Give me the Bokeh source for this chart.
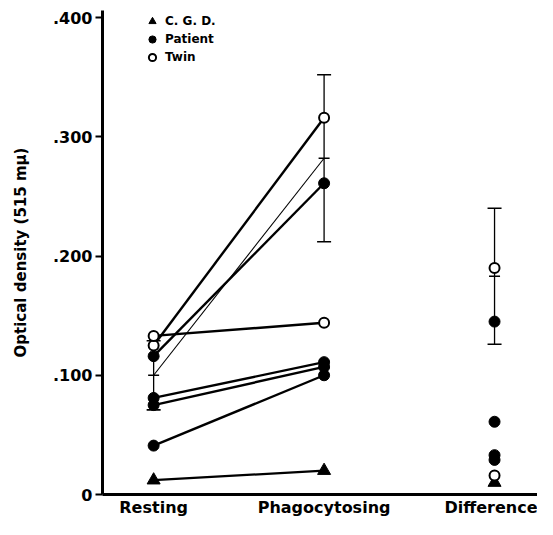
from bokeh.plotting import figure
from bokeh.models import (Range1d, FixedTicker, Legend, LegendItem, Whisker,
                          TeeHead, ColumnDataSource)
from bokeh.embed import file_html
from bokeh.resources import INLINE

# ---- data ----
categories = ["Resting", "Phagocytosing", "Difference"]

cgd_rest = [0.012]
cgd_phago = [0.020]
cgd_diff = [0.010]

patient_rest = [0.116, 0.081, 0.075, 0.041]
patient_phago = [0.261, 0.111, 0.107, 0.100]
patient_diff = [0.145, 0.061, 0.033, 0.029]

twin_rest = [0.125, 0.133]
twin_phago = [0.316, 0.144]
twin_diff = [0.190, 0.016]

mean_values = [0.100, 0.282, 0.183]
mean_errors = [0.029, 0.070, 0.057]

y_ticks = [0.0, 0.1, 0.2, 0.3, 0.4]
y_tick_labels = ["0", ".100", ".200", ".300", ".400"]
y_label = "Optical density (515 mμ)"

FONT = "DejaVu Sans"

pos = {c: i + 1 for i, c in enumerate(categories)}
xr, xp, xd = pos["Resting"], pos["Phagocytosing"], pos["Difference"]

p = figure(width=537, height=519, output_backend="svg", toolbar_location=None,
           x_range=Range1d(0.7, 3.252), y_range=Range1d(0, 0.4059),
           min_border_left=102, min_border_right=0, min_border_top=10,
           min_border_bottom=24)
p.outline_line_color = None
p.grid.visible = False
p.background_fill_color = "white"

# connecting lines
def connect(rest, phago, width):
    p.segment(x0=[xr] * len(rest), y0=rest, x1=[xp] * len(phago), y1=phago,
              line_color="black", line_width=width)

connect(cgd_rest, cgd_phago, 2.2)
connect(patient_rest, patient_phago, 2.4)
connect(twin_rest, twin_phago, 2.4)
# mean line (thin)
p.line(x=[xr, xp], y=mean_values[:2], line_color="black", line_width=1.1)

# error bars
err_src = ColumnDataSource(dict(
    x=[xr, xp, xd],
    lower=[m - e for m, e in zip(mean_values, mean_errors)],
    upper=[m + e for m, e in zip(mean_values, mean_errors)],
))
wh = Whisker(base="x", lower="lower", upper="upper", source=err_src,
             line_color="black", line_width=1.3,
             lower_head=TeeHead(size=14, line_width=1.6, line_color="black"),
             upper_head=TeeHead(size=14, line_width=1.6, line_color="black"))
p.add_layout(wh)
p.scatter(x=[xr, xp, xd], y=mean_values, marker="dash", size=11,
          line_color="black", line_width=1.6)

# markers
cgd_x = [xr] * len(cgd_rest) + [xp] * len(cgd_phago) + [xd] * len(cgd_diff)
cgd_y = cgd_rest + cgd_phago + cgd_diff
r_cgd = p.scatter(x=cgd_x, y=cgd_y, marker="triangle", size=13,
                  fill_color="black", line_color="black", line_width=1)

pat_x = [xr] * len(patient_rest) + [xp] * len(patient_phago) + [xd] * len(patient_diff)
pat_y = patient_rest + patient_phago + patient_diff
r_pat = p.scatter(x=pat_x, y=pat_y, marker="circle", size=11,
                  fill_color="black", line_color="black", line_width=1)

twin_x = [xr] * len(twin_rest) + [xp] * len(twin_phago) + [xd] * len(twin_diff)
twin_y = twin_rest + twin_phago + twin_diff
r_twin = p.scatter(x=twin_x, y=twin_y, marker="circle", size=10,
                   fill_color="white", line_color="black", line_width=2)

# axes
p.xaxis.ticker = FixedTicker(ticks=[xr, xp, xd])
p.xaxis.major_label_overrides = {xr: categories[0], xp: categories[1], xd: categories[2]}
p.xaxis.major_tick_line_color = None
p.xaxis.major_tick_out = 0
p.xaxis.major_tick_in = 0
p.xaxis.minor_tick_line_color = None
p.xaxis.minor_tick_out = 0
p.xaxis.axis_line_width = 3
p.xaxis.major_label_text_font = FONT
p.xaxis.major_label_text_font_style = "bold"
p.xaxis.major_label_text_font_size = "16px"
p.xaxis.major_label_text_color = "black"
p.xaxis.major_label_standoff = 3

p.yaxis.ticker = FixedTicker(ticks=y_ticks)
p.yaxis.major_label_overrides = {t: l for t, l in zip(y_ticks, y_tick_labels)}
p.yaxis.minor_tick_line_color = None
p.yaxis.major_tick_out = 7
p.yaxis.major_tick_in = 0
p.yaxis.major_tick_line_width = 2
p.yaxis.axis_line_width = 3
p.yaxis.major_label_text_font = FONT
p.yaxis.major_label_text_font_style = "bold"
p.yaxis.major_label_text_font_size = "16px"
p.yaxis.major_label_text_color = "black"
p.yaxis.major_label_standoff = 3
p.yaxis.axis_label = y_label
p.yaxis.axis_label_text_font = FONT
p.yaxis.axis_label_text_font_style = "bold"
p.yaxis.axis_label_text_font_size = "15px"
p.yaxis.axis_label_text_color = "black"
p.yaxis.axis_label_standoff = 20

legend = Legend(items=[LegendItem(label="C. G. D.", renderers=[r_cgd]),
                       LegendItem(label="Patient", renderers=[r_pat]),
                       LegendItem(label="Twin", renderers=[r_twin])],
                location=(41, 428), glyph_width=18, glyph_height=18,
                label_height=18, label_standoff=4, spacing=0, padding=0,
                margin=0, border_line_color=None, background_fill_alpha=0,
                label_text_font=FONT, label_text_font_style="bold",
                label_text_font_size="12px", label_text_color="black")
p.add_layout(legend)

open("out.html", "w").write(file_html(p, INLINE))
